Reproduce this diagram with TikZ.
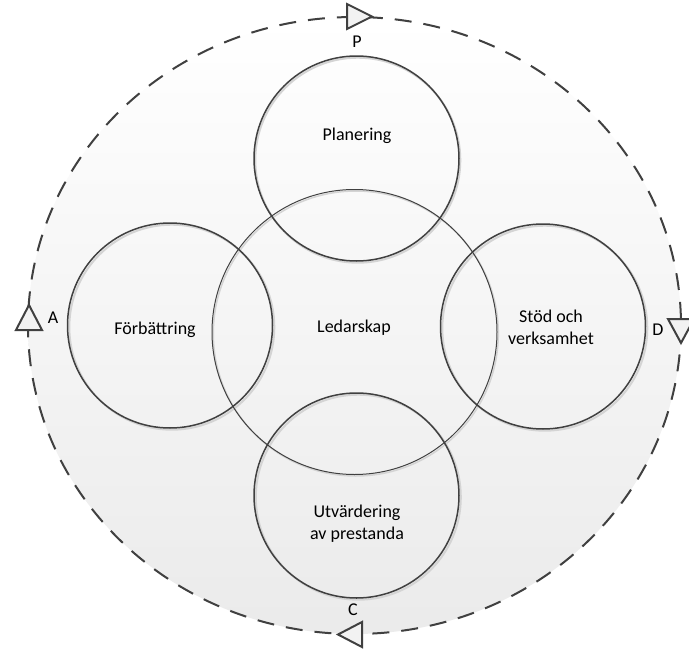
\documentclass[tikz,border=0pt]{standalone}
\usepackage{fontspec}
\setmainfont{Carlito}
\usetikzlibrary{calc}
\definecolor{lineg}{HTML}{404040}
\definecolor{shad}{HTML}{D4D4D4}
\definecolor{trifill}{HTML}{F2F2F2}
\begin{document}
\begin{tikzpicture}[x=1pt,y=-1pt,
  lbl/.style={font=\fontsize{18}{22}\selectfont, text=black, align=center, inner sep=0pt},
  ring/.style={draw=lineg, line width=1.5pt},
  ringshadow/.style={draw=shad, line width=2pt},
  cyclepath/.style={draw=lineg, line width=2pt, dash pattern=on 17pt off 12pt},
  tri/.style={draw=lineg, fill=trifill, line width=2pt, line join=miter}
]
\useasboundingbox (0,0) rectangle (689,651);
% outer cycle
\path[shade, top color=white, bottom color=black!8] (354.5,325.5) ellipse [x radius=326.5, y radius=308.5];
\draw[cyclepath] (354.5,325.5) ellipse [x radius=326.5, y radius=308.5];
% circle shadows
\draw[ringshadow] (357.8,160.2) circle [radius=102.5];
\draw[ringshadow] (171.8,327.2) circle [radius=102.5];
\draw[ringshadow] (544.8,328.2) circle [radius=102.5];
\draw[ringshadow] (358.3,497.2) circle [radius=102.5];
\draw[draw=shad, line width=1.5pt] (355.8,333.5) circle [radius=142.5];
% circles
\node[circle, ring, line width=1pt, minimum size=285pt, inner sep=0pt] (led) at (354.5,332) {};
\node[circle, ring, minimum size=205pt, inner sep=0pt] (plan) at (356.5,158.5) {};
\node[circle, ring, minimum size=205pt, inner sep=0pt] (forb) at (170,325.5) {};
\node[circle, ring, minimum size=205pt, inner sep=0pt] (stod) at (543,326.5) {};
\node[circle, ring, minimum size=205pt, inner sep=0pt] (utv) at (356.5,495.5) {};
% texts
\node[lbl] (tplan) at (357,136) {Planering};
\node[lbl] (tforb) at (155,330) {Förbättring};
\node[lbl] (tled) at (354,328) {Ledarskap};
\node[lbl] (tstod) at (551,327) {Stöd och\\verksamhet};
\node[lbl] (tutv) at (357,524) {Utvärdering\\av prestanda};
% cycle labels
\node[lbl] (lp) at (357,42) {P};
\node[lbl] (la) at (53,318) {A};
\node[lbl] (ld) at (658,330) {D};
\node[lbl] (lc) at (353,610) {C};
% triangles
\draw[tri] (347,4) -- (372,16.5) -- (347,29) -- cycle;
\draw[tri] (29,305) -- (42,330) -- (16,330) -- cycle;
\draw[tri] (668,319) -- (694,319) -- (681,343) -- cycle;
\draw[tri] (338,634.5) -- (362,622) -- (362,647) -- cycle;
\end{tikzpicture}
\end{document}
